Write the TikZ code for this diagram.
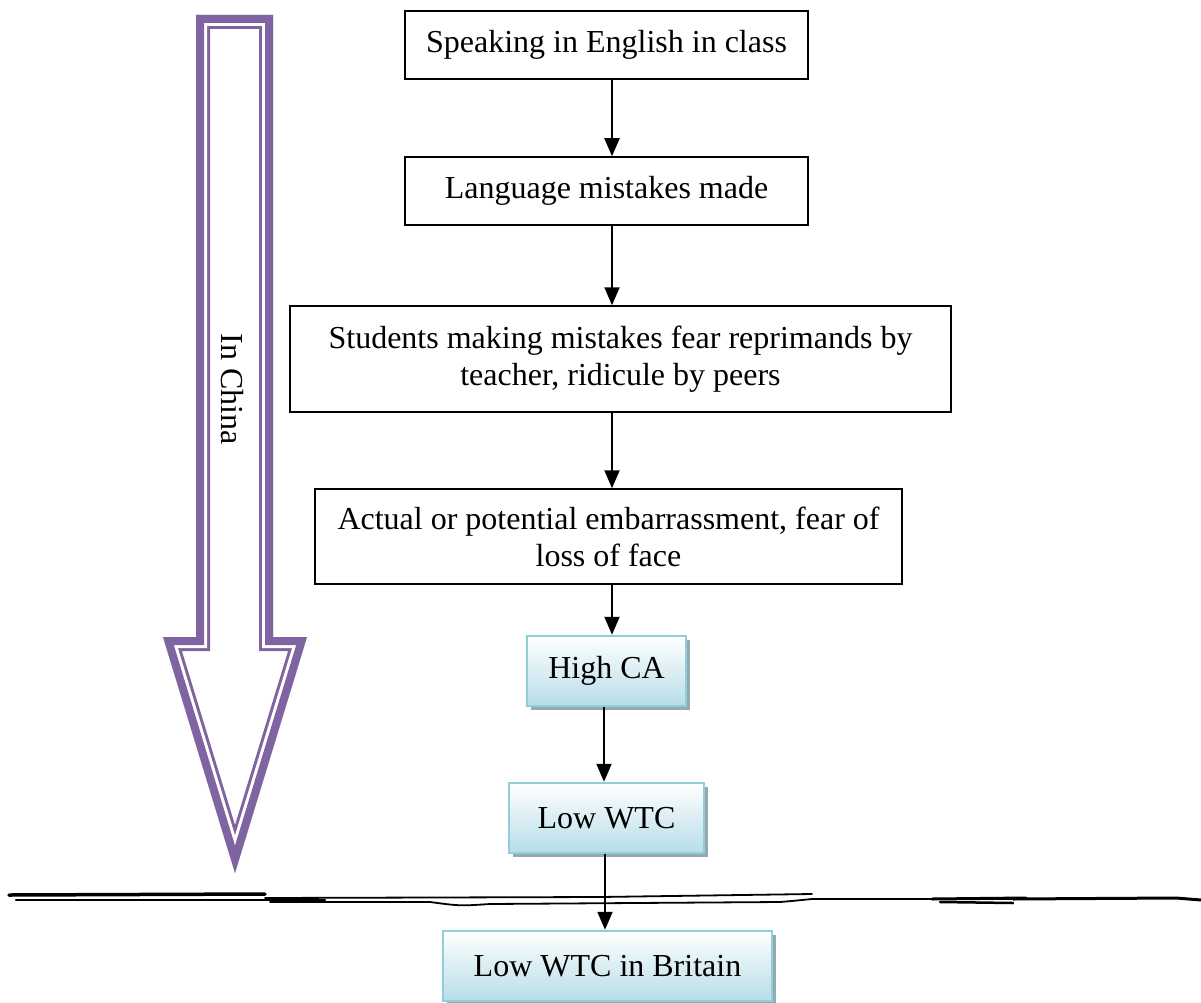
\documentclass[tikz,border=0pt]{standalone}
\usepackage{fontspec}
\setmainfont{Liberation Serif}
\usetikzlibrary{arrows.meta,shadows}
\definecolor{arrowpurple}{HTML}{8064A2}
\definecolor{boxrim}{HTML}{92CDDC}
\definecolor{boxfill}{HTML}{B7DDE8}
\definecolor{boxshade}{HTML}{93AAB3}
\tikzset{
  plainbox/.style={draw=black, line width=1.5pt, fill=white, align=center,
    inner sep=0pt, font=\fontsize{32}{37}\selectfont},
  bluebox/.style={draw=boxrim, line width=2.5pt, top color=white, bottom color=boxfill,
    align=center, inner sep=0pt, font=\fontsize{32}{37}\selectfont,
    drop shadow={shadow xshift=4pt, shadow yshift=-4pt, fill=boxshade, opacity=1}},
  flow/.style={line width=2pt, -{Triangle[length=18pt,width=15pt]}},
  rule/.style={black, line cap=round},
  arrowoutline/.style={miter limit=20},
}
\begin{document}
\begin{tikzpicture}[x=1pt, y=-1pt]
\useasboundingbox (0,0) rectangle (1201,1003);
\clip (0,0) rectangle (1201,1003);

% downward block arrow with a thick-thin double outline
\def\blockarrow{(196,15) -- (273,15) -- (273,637) -- (307,637) -- (235,873) -- (163,637) -- (196,637) -- cycle}
\begin{scope}
  \path[fill=white] \blockarrow;
  \clip \blockarrow;
  \draw[arrowoutline, arrowpurple, line width=28pt] \blockarrow;
  \draw[arrowoutline, white, line width=22pt] \blockarrow;
  \draw[arrowoutline, arrowpurple, line width=16pt] \blockarrow;
\end{scope}
\node[rotate=-90, font=\fontsize{32}{37}\selectfont] (china) at (232,389) {In China};

% flow boxes
\node[plainbox, minimum width=403pt, minimum height=68pt] (speak) at (606.5,45) {Speaking in English in class};
\node[plainbox, minimum width=403pt, minimum height=68pt] (mistake) at (606.5,191) {Language mistakes made};
\node[plainbox, minimum width=661pt, minimum height=106pt] (fear) at (620.5,359)
  {Students making mistakes fear reprimands by\\teacher, ridicule by peers};
\node[plainbox, minimum width=587pt, minimum height=95pt] (face) at (608.5,536.5)
  {Actual or potential embarrassment, fear of\\loss of face};
\node[bluebox, minimum width=159pt, minimum height=70pt] (ca) at (606.5,671) {High CA};
\node[bluebox, minimum width=195pt, minimum height=70pt] (wtc) at (606.5,818) {Low WTC};
\node[bluebox, minimum width=329pt, minimum height=70pt] (brit) at (607.5,966) {Low WTC in Britain};

% guide lines for the connectors
\coordinate (spine) at (612,0);
\coordinate (lowspine) at (604,0);
\coordinate (brspine) at (605,0);

% hand-drawn border line between China and Britain
\draw[rule, line width=3.5pt] (9,895) -- (265,894);
\draw[rule, line width=2.5pt] (16,900) -- (325,900);
\draw[rule, line width=1.8pt] (265,898) -- (600,897) -- (812,894);
\draw[rule, line width=1.8pt] (270,902) -- (430,902) .. controls (460,906) .. (490,904) -- (780,902) .. controls (792,901) .. (812,899) -- (1013,899);
\draw[rule, line width=3pt] (932,899) -- (1026,898);
\draw[rule, line width=2.5pt] (940,902) -- (1013,903);
\draw[rule, line width=3pt] (1013,899) -- (1176,898) -- (1201,900);

% connectors
\draw[flow] (speak.south -| spine) -- (mistake.north -| spine);
\draw[flow] (mistake.south -| spine) -- (fear.north -| spine);
\draw[flow] (fear.south -| spine) -- (face.north -| spine);
\draw[flow] (face.south -| spine) -- (ca.north -| spine);
\draw[flow] (ca.south -| lowspine) -- (wtc.north -| lowspine);
\draw[flow] (wtc.south -| brspine) -- (brit.north -| brspine);
\end{tikzpicture}
\end{document}
